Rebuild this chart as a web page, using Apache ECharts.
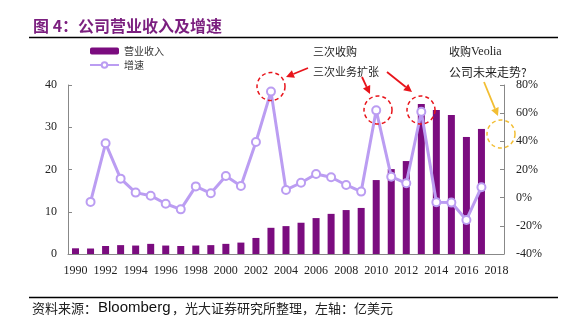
<!DOCTYPE html>
<html><head><meta charset="utf-8">
<script src="https://cdn.jsdelivr.net/npm/echarts@6/dist/echarts.min.js"></script>
<style>html,body{margin:0;padding:0;background:#fff}#c{width:575px;height:325px}</style>
</head><body><div id="c"></div>
<script>
var years = ['1990','1991','1992','1993','1994','1995','1996','1997','1998','1999','2000','2001','2002','2003','2004','2005','2006','2007','2008','2009','2010','2011','2012','2013','2014','2015','2016','2017','2018'];
var revenue = [1.35,1.3,1.9,2.1,2.0,2.4,2.0,1.9,2.0,2.1,2.4,2.7,3.8,6.2,6.6,7.4,8.5,9.5,10.4,10.9,17.5,20.1,22.0,35.5,34.1,32.9,27.7,29.6,null];
var growth = [null,-3,38.6,13.5,3.6,1.4,-4.3,-8.3,8,3.1,15.4,8.3,39.5,75.3,5.5,10.6,16.8,14.5,9.0,4.3,62,14.9,10.2,61,-3.3,-3.5,-15.8,7.4,null];
var leftTicks = [0,40,10];
var rightTicks = [-40,80,20];

var serif = '"Liberation Serif","DejaVu Serif",serif';
var cjk = '"Noto Sans CJK SC","Noto Sans",sans-serif';
var barColor = '#7B0C7F', lineColor = '#BB9DF2', red = '#E8141B', gold = '#F2BE33';

function arrow(x1,y1,x2,y2,color){
  var dx=x2-x1, dy=y2-y1, L=Math.sqrt(dx*dx+dy*dy), ux=dx/L, uy=dy/L;
  var hl=8, hw=4;
  var bx=x2-ux*hl, by=y2-uy*hl;
  return {type:'group', children:[
    {type:'line', shape:{x1:x1,y1:y1,x2:bx,y2:by}, style:{stroke:color,lineWidth:1.8}},
    {type:'polygon', shape:{points:[[x2,y2],[bx-uy*hw,by+ux*hw],[bx+uy*hw,by-ux*hw]]}, style:{fill:color}}
  ]};
}
function dcircle(cx,cy,r,color){
  return {type:'circle', shape:{cx:cx,cy:cy,r:r}, style:{fill:null,stroke:color,lineWidth:1.5,lineDash:[4,3]}, z:10};
}
function txt(x,y,t,size,extra){
  var s={text:t,x:x,y:y,fill:'#222',font:(size||11)+'px '+cjk,textVerticalAlign:'middle'};
  for(var k in extra) s[k]=extra[k];
  return {type:'text', style:s, z:10};
}

var chart = echarts.init(document.getElementById('c'));
chart.setOption({
  animation:false,
  title:{text:'图 4：公司营业收入及增速', left:28, top:13, textStyle:{color:'#7B1F7F', fontSize:16, fontWeight:'bold', fontFamily:cjk}},
  legend:{orient:'vertical', left:84, top:41, itemWidth:29, itemHeight:7, itemGap:4,
    textStyle:{fontSize:10, color:'#333', fontFamily:cjk},
    data:[{name:'营业收入'},{name:'增速'}]},
  grid:{left:68, right:71, top:85, bottom:71},
  xAxis:{type:'category', data:years, boundaryGap:true,
    axisLine:{lineStyle:{color:'#888'}},
    axisTick:{inside:true, length:3, lineStyle:{color:'#888'}},
    axisLabel:{interval:1, color:'#222', fontFamily:serif, fontSize:12, margin:11}},
  yAxis:[
    {type:'value', min:leftTicks[0], max:leftTicks[1], interval:leftTicks[2], splitLine:{show:false},
      axisLine:{show:true, lineStyle:{color:'#888'}}, axisTick:{show:true, inside:true, length:4, lineStyle:{color:'#888'}},
      axisLabel:{color:'#222', fontFamily:serif, fontSize:12, margin:11}},
    {type:'value', min:rightTicks[0], max:rightTicks[1], interval:rightTicks[2], splitLine:{show:false},
      axisLine:{show:true, lineStyle:{color:'#888'}}, axisTick:{show:true, inside:true, length:4, lineStyle:{color:'#888'}},
      axisLabel:{color:'#222', fontFamily:serif, fontSize:12, margin:12, formatter:'{value}%'}}
  ],
  series:[
    {name:'营业收入', type:'bar', data:revenue, barWidth:7, itemStyle:{color:barColor}, yAxisIndex:0},
    {name:'增速', type:'line', data:growth, yAxisIndex:1, symbol:'circle', symbolSize:8, showAllSymbol:true,
      lineStyle:{color:lineColor, width:3}, itemStyle:{color:'#fff', borderColor:lineColor, borderWidth:2}, z:5}
  ],
  graphic:[
    {type:'line', shape:{x1:29,y1:37.5,x2:558,y2:37.5}, style:{stroke:'#000',lineWidth:1.5}},
    {type:'line', shape:{x1:29,y1:297.5,x2:558,y2:297.5}, style:{stroke:'#000',lineWidth:1.5}},
    {type:'text', style:{text:'资料来源：', x:32, y:308, fill:'#222', font:'13px '+cjk, textVerticalAlign:'middle'}},
    {type:'text', style:{text:'Bloomberg', x:98, y:308, fill:'#111', font:'15px "Liberation Sans",Arial,sans-serif', textVerticalAlign:'middle'}},
    {type:'text', style:{text:'，光大证券研究所整理，左轴：亿美元', x:172, y:308, fill:'#222', font:'13px '+cjk, textVerticalAlign:'middle'}},
    txt(313,52,'三次收购',11),
    txt(313,72,'三次业务扩张',11),
    txt(449,52,'收购',11),
    {type:'text', style:{text:'Veolia', x:471, y:52, fill:'#222', font:'12px '+serif, textVerticalAlign:'middle'}, z:10},
    txt(449,72,'公司未来走势?',12),
    dcircle(271,86.5,14,red),
    dcircle(378,110,14,red),
    dcircle(421,110,14,red),
    dcircle(501,134,14,gold),
    arrow(308,68,286,77,red),
    arrow(362,77,370,94,red),
    arrow(387,72,412,92,red),
    arrow(484,82,498,116,gold)
  ]
});
</script></body></html>
